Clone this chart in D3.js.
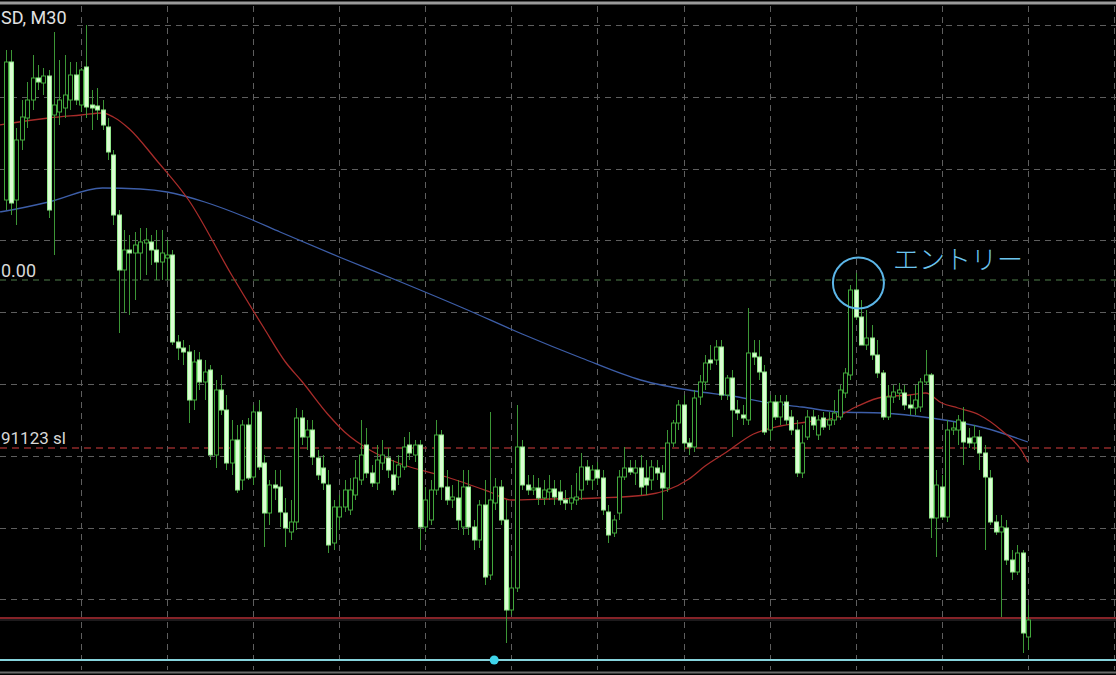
<!DOCTYPE html>
<html><head><meta charset="utf-8">
<script src="https://cdn.jsdelivr.net/npm/d3@7"></script>
<style>html,body{margin:0;padding:0;background:#000;overflow:hidden}</style>
</head><body>
<svg id="chart" width="1116" height="675"></svg>
<script>
// ---- Data (XAUUSD-like, M30 bars) ----
const opens = [
1940.0,1953.8,1940.0,1946.0,1948.2,1950.0,1952.2,1951.7,1952.4,1948.5,
1948.8,1949.2,1950.0,1952.5,1949.5,1953.3,1949.5,1949.4,1949.0,1947.3,
1944.5,1938.5,1933.0,1935.0,1934.7,1934.7,1935.7,1935.8,1935.0,1933.8,
1934.2,1934.5,1925.8,1925.2,1924.8,1920.0,1924.0,1921.8,1923.0,1914.5,
1921.0,1919.0,1913.7,1916.0,1912.0,1917.5,1912.3,1918.8,1913.7,1908.7,
1911.5,1911.3,1908.7,1906.8,1907.8,1918.2,1916.3,1917.0,1914.2,1913.2,
1911.5,1905.7,1908.3,1909.3,1909.0,1910.5,1912.0,1915.5,1912.7,1911.7,
1913.7,1914.2,1912.5,1912.3,1913.3,1915.5,1914.5,1915.5,1907.3,1908.0,
1911.0,1916.5,1911.3,1910.0,1910.2,1907.3,1911.3,1907.3,1906.0,1909.5,
1902.5,1909.7,1911.3,1908.0,1899.0,1901.2,1915.3,1911.5,1911.0,1911.2,
1910.2,1910.8,1911.1,1910.8,1910.0,1909.7,1910.0,1911.0,1913.3,1912.0,
1913.0,1912.2,1908.8,1906.7,1908.7,1912.3,1913.2,1912.7,1913.2,1912.2,
1912.0,1913.2,1912.7,1911.2,1915.7,1917.7,1919.5,1915.7,1915.3,1920.3,
1921.8,1924.0,1924.0,1925.3,1920.5,1922.2,1919.0,1918.5,1918.0,1924.7,
1924.3,1922.8,1917.0,1919.8,1918.3,1919.8,1918.3,1917.0,1912.7,1916.3,
1918.3,1916.5,1918.2,1917.5,1918.0,1918.3,1920.7,1922.5,1931.0,1928.3,
1925.5,1926.2,1924.5,1922.7,1918.3,1920.3,1920.7,1920.7,1919.5,1919.2,
1919.3,1921.8,1922.5,1908.2,1911.3,1908.3,1917.0,1917.0,1917.8,1916.2,
1915.7,1916.3,1914.7,1912.2,1907.8,1906.8,1907.2,1904.0,1902.8,1904.7,1896.3];
const highs = [
1955.0,1955.0,1947.2,1950.0,1951.8,1954.5,1953.5,1953.2,1953.0,1956.8,
1954.0,1954.5,1953.8,1953.8,1953.2,1957.5,1951.0,1951.2,1950.0,1948.2,
1945.0,1939.0,1937.0,1936.5,1936.8,1937.2,1937.2,1936.5,1937.0,1937.0,
1936.0,1935.0,1926.5,1926.0,1925.5,1925.0,1924.8,1924.0,1923.5,1922.0,
1922.5,1920.5,1918.0,1917.5,1918.0,1918.2,1919.5,1920.0,1914.5,1912.0,
1913.0,1913.0,1910.2,1910.0,1919.2,1919.0,1918.0,1918.0,1915.0,1914.5,
1913.0,1910.0,1910.5,1912.0,1912.2,1914.0,1918.0,1917.2,1913.5,1915.5,
1916.0,1915.2,1914.0,1914.5,1916.3,1916.8,1916.0,1916.0,1911.3,1912.0,
1918.0,1917.0,1913.0,1911.5,1912.0,1913.0,1913.0,1908.0,1910.0,1912.0,
1918.8,1912.2,1912.0,1910.0,1904.0,1919.5,1916.0,1912.5,1912.5,1912.2,
1912.0,1912.5,1912.0,1912.0,1911.0,1911.5,1912.7,1914.7,1914.0,1913.5,
1913.8,1913.0,1909.5,1908.5,1913.0,1915.3,1914.0,1914.0,1914.5,1914.0,
1914.0,1914.0,1913.5,1917.0,1918.0,1920.0,1920.5,1916.2,1921.0,1922.5,
1924.5,1925.5,1926.0,1926.0,1922.5,1923.0,1920.0,1919.5,1929.2,1926.0,
1926.0,1923.5,1920.5,1920.5,1920.5,1920.5,1919.0,1918.0,1917.5,1919.0,
1919.0,1918.5,1918.8,1918.8,1920.0,1921.5,1923.2,1931.5,1932.7,1930.0,
1929.0,1927.5,1926.0,1923.0,1921.5,1921.5,1921.7,1921.5,1920.5,1921.5,
1922.2,1925.0,1922.7,1913.0,1912.5,1918.0,1917.8,1918.5,1919.3,1917.2,
1917.5,1917.0,1915.5,1913.0,1908.5,1908.5,1908.0,1905.0,1905.5,1905.0,1899.5];
const lows = [
1939.0,1938.5,1937.5,1945.0,1947.2,1949.0,1951.0,1950.5,1938.2,1934.5,
1947.5,1948.2,1949.0,1949.5,1948.8,1948.2,1947.0,1948.0,1947.0,1944.0,
1937.5,1926.7,1928.7,1928.5,1930.0,1932.0,1932.5,1933.5,1932.0,1932.0,
1932.0,1925.5,1924.0,1923.5,1917.7,1919.0,1921.0,1920.0,1914.0,1913.2,
1918.5,1913.0,1912.5,1910.7,1911.0,1912.0,1911.5,1913.0,1905.3,1907.5,
1910.0,1907.3,1905.3,1906.0,1907.0,1915.5,1915.0,1913.5,1912.0,1911.0,
1904.7,1905.0,1907.0,1908.8,1908.5,1910.0,1911.5,1912.2,1911.3,1911.0,
1913.0,1912.2,1910.5,1911.5,1913.0,1914.0,1913.8,1905.0,1906.8,1907.5,
1910.5,1910.0,1909.5,1909.2,1907.0,1906.5,1906.5,1905.0,1905.2,1901.5,
1902.0,1909.0,1907.5,1895.7,1898.5,1900.8,1911.0,1910.5,1910.5,1909.5,
1909.5,1910.0,1909.5,1909.5,1909.0,1909.0,1909.5,1910.0,1911.5,1911.0,
1911.5,1908.5,1905.7,1906.3,1908.0,1912.0,1912.5,1911.5,1910.5,1910.5,
1911.0,1912.0,1908.0,1910.8,1915.3,1917.0,1915.0,1914.5,1914.8,1919.5,
1921.0,1923.0,1923.5,1920.0,1920.0,1916.3,1918.0,1917.5,1917.5,1923.5,
1922.0,1916.5,1916.0,1918.0,1917.5,1917.5,1916.5,1912.3,1912.2,1916.0,
1917.0,1916.0,1917.0,1917.0,1917.5,1918.0,1920.2,1922.0,1928.0,1925.5,
1925.0,1924.0,1922.2,1918.0,1918.0,1919.7,1920.0,1919.0,1918.5,1918.5,
1918.8,1921.5,1906.2,1904.3,1908.0,1907.8,1916.5,1915.5,1913.5,1915.2,
1915.0,1913.0,1905.0,1907.5,1906.5,1898.3,1903.5,1902.0,1902.5,1894.7,1895.0];
const closes = [
1953.8,1939.7,1946.0,1948.3,1950.0,1952.2,1951.8,1952.4,1939.0,1949.5,
1950.0,1950.5,1952.5,1950.0,1953.0,1949.3,1949.2,1949.0,1947.5,1944.8,
1938.5,1933.0,1935.0,1934.7,1935.5,1935.8,1936.0,1935.0,1933.8,1934.7,
1934.5,1925.8,1925.2,1924.8,1920.0,1923.8,1921.8,1922.8,1914.5,1921.0,
1919.0,1913.7,1916.0,1911.0,1917.5,1912.2,1918.8,1913.3,1908.7,1911.5,
1911.2,1908.8,1907.2,1907.8,1918.2,1916.3,1917.0,1914.3,1912.5,1911.7,
1905.5,1909.3,1909.3,1911.0,1911.0,1912.2,1914.5,1912.7,1911.7,1914.0,
1914.5,1913.0,1911.0,1913.5,1915.3,1914.7,1915.5,1907.3,1910.0,1911.0,
1916.5,1911.3,1910.0,1910.3,1908.0,1911.3,1907.3,1906.0,1909.5,1902.3,
1910.0,1911.3,1908.0,1899.0,1901.2,1915.3,1911.5,1911.0,1911.2,1910.2,
1911.0,1911.1,1910.3,1910.0,1909.7,1910.2,1910.3,1913.3,1912.0,1913.0,
1912.2,1909.0,1906.5,1908.0,1912.3,1913.2,1912.8,1913.2,1911.3,1911.5,
1913.3,1912.7,1911.2,1915.7,1917.7,1919.5,1915.7,1915.3,1920.2,1921.8,
1923.7,1923.7,1925.3,1920.5,1922.2,1919.0,1918.7,1918.2,1924.7,1924.3,
1922.8,1916.8,1919.8,1918.3,1919.8,1918.0,1917.0,1912.7,1915.7,1918.3,
1917.5,1918.0,1917.3,1918.0,1918.7,1921.0,1922.7,1931.0,1928.3,1925.5,
1926.2,1924.5,1922.7,1918.3,1920.3,1920.8,1921.0,1919.5,1919.2,1920.0,
1921.8,1922.5,1908.2,1911.5,1908.3,1917.0,1917.2,1918.0,1915.8,1915.7,
1916.3,1914.7,1912.3,1907.8,1906.8,1907.3,1904.0,1902.8,1904.7,1896.7,1898.0];

// moving averages: [bar index, value]
const fastMA = [[-1.1,1947.5],[0,1947.6],[8,1948.2],[14,1948.5],[18,1948.7],[20,1948.3],[23,1947.1],
 [28,1944.0],[34,1940.0],[42,1932.5],[48,1927.2],[52,1923.8],[55,1921.9],[60,1918.5],[63,1916.8],
 [68,1914.9],[74,1913.5],[82,1912.3],[90,1910.8],[94,1910.0],[101,1910.1],[110,1910.2],[119,1910.5],
 [123,1911.0],[127,1912.1],[130,1913.4],[134,1914.8],[139,1916.6],[144,1917.4],[149,1917.8],
 [154,1918.2],[158,1919.3],[163,1920.3],[168,1920.5],[171,1920.7],[174,1919.7],[177,1919.2],
 [181,1918.5],[185,1917.0],[189,1914.8],[190,1913.8]];
const slowMA = [[-1.1,1938.8],[0,1938.9],[8,1939.8],[18,1941.2],[25,1941.1],[30,1940.8],[37,1939.8],
 [45,1938.2],[51,1936.8],[62,1934.3],[73,1931.9],[85,1929.2],[96,1926.6],[107,1924.2],[118,1922.0],
 [128,1920.9],[135,1920.4],[142,1919.7],[148,1919.3],[155,1918.8],[163,1918.7],[172,1918.2],
 [182,1917.2],[190,1915.8]];

const gridBars = [14,30,46,62,78,94,110,126,142,158,174,190,206];
const gridPrices = [1957.50,1950.32,1943.14,1935.96,1928.79,1921.61,1914.43,1907.25,1900.07];
const entryPrice = 1932.0, slPrice = 1915.2, tpPrice = 1898.2, markerPrice = 1894.0, markerBar = 90.8;
const entryBar = 158.5, entryMarkPrice = 1931.7;
const titleText = "SD, M30", entryLabel = "0.00", slLabel = "91123 sl", noteText = "エントリー";

// ---- Drawing ----
const W = 1116, H = 675;
const svg = d3.select("#chart");
svg.append("rect").attr("width", W).attr("height", H).attr("fill", "#000");

const x = d3.scaleLinear().domain([0, 190]).range([5.68, 1027.9]);
const y = d3.scaleLinear().domain([1960, 1892.5]).range([0, 675]);

const g = svg.append("g");
// grid
g.selectAll(".vg").data(gridBars).enter().append("line")
  .attr("x1", d => Math.round(x(d)) + 0.5).attr("x2", d => Math.round(x(d)) + 0.5)
  .attr("y1", 6).attr("y2", 670)
  .attr("stroke", "#5e5e5e").attr("stroke-width", 1).attr("stroke-dasharray", "6,5");
g.selectAll(".hg").data(gridPrices).enter().append("line")
  .attr("x1", 0).attr("x2", 1116)
  .attr("y1", d => Math.round(y(d)) + 0.5).attr("y2", d => Math.round(y(d)) + 0.5)
  .attr("stroke", "#5e5e5e").attr("stroke-width", 1).attr("stroke-dasharray", "6,5");

// order lines
g.append("line").attr("x1", 0).attr("x2", W).attr("y1", y(entryPrice)).attr("y2", y(entryPrice))
  .attr("stroke", "#4f7f4a").attr("stroke-width", 1).attr("stroke-dasharray", "6,5");
g.append("line").attr("x1", 0).attr("x2", W).attr("y1", y(slPrice)).attr("y2", y(slPrice))
  .attr("stroke", "#8e2a2a").attr("stroke-width", 1.5).attr("stroke-dasharray", "7,5");
g.append("line").attr("x1", 0).attr("x2", W).attr("y1", y(tpPrice)).attr("y2", y(tpPrice))
  .attr("stroke", "#852328").attr("stroke-width", 2);
g.append("line").attr("x1", 0).attr("x2", W).attr("y1", y(tpPrice) + 2).attr("y2", y(tpPrice) + 2)
  .attr("stroke", "#3a3438").attr("stroke-width", 1);

// moving averages
const maLine = d3.line().x(d => x(d[0])).y(d => y(d[1])).curve(d3.curveMonotoneX);
g.append("path").attr("d", maLine(slowMA)).attr("fill", "none").attr("stroke", "#3d5ea8").attr("stroke-width", 1.3);
g.append("path").attr("d", maLine(fastMA)).attr("fill", "none").attr("stroke", "#a82c2a").attr("stroke-width", 1.3);

// candles
const idx = d3.range(Math.min(opens.length, highs.length, lows.length, closes.length));
const bw = 4;
const cg = g.append("g");
idx.forEach(i => {
  const cx = Math.round(x(i)) + 0.5;
  const o = y(opens[i]), c = y(closes[i]), h = y(highs[i]), l = y(lows[i]);
  const top = Math.min(o, c), bot = Math.max(o, c);
  const bull = closes[i] > opens[i];
  cg.append("line").attr("x1", cx).attr("x2", cx).attr("y1", h).attr("y2", l)
    .attr("stroke", "#3c9636").attr("stroke-width", 1);
  if (bull) {
    cg.append("rect").attr("x", cx - bw / 2).attr("y", top).attr("width", bw).attr("height", Math.max(1, bot - top))
      .attr("fill", "#000").attr("stroke", "#42a83c").attr("stroke-width", 1);
  } else {
    cg.append("rect").attr("x", cx - bw / 2).attr("y", top).attr("width", bw).attr("height", Math.max(1.5, bot - top))
      .attr("fill", "#dcfdd4").attr("stroke", "#93e88c").attr("stroke-width", 1);
  }
});

// frame lines
svg.append("line").attr("x1", 0).attr("x2", W).attr("y1", 3).attr("y2", 3).attr("stroke", "#9a9a9a").attr("stroke-width", 3);
svg.append("line").attr("x1", 0).attr("x2", W).attr("y1", 672.5).attr("y2", 672.5).attr("stroke", "#6a6a6a").attr("stroke-width", 2);
svg.append("line").attr("x1", 0).attr("x2", W).attr("y1", y(markerPrice)).attr("y2", y(markerPrice))
  .attr("stroke", "#86d3dc").attr("stroke-width", 2);
svg.append("circle").attr("cx", x(markerBar)).attr("cy", y(markerPrice)).attr("r", 4.5).attr("fill", "#3fd4ea");

// labels
const font = "Roboto, 'Liberation Sans', sans-serif";
svg.append("rect").attr("x", 0).attr("y", 8).attr("width", 74).attr("height", 19).attr("fill", "#000");
svg.append("text").attr("x", 1).attr("y", 24).text(titleText)
  .attr("fill", "#e2e2e2").attr("font-family", font).attr("font-size", 18);
svg.append("text").attr("x", 1).attr("y", 277).text(entryLabel)
  .attr("fill", "#d8d8d8").attr("font-family", font).attr("font-size", 18);
svg.append("text").attr("x", 1).attr("y", 444).text(slLabel)
  .attr("fill", "#d8d8d8").attr("font-family", font).attr("font-size", 17);

// annotation
svg.append("circle").attr("cx", x(entryBar)).attr("cy", y(entryMarkPrice)).attr("r", 25.5)
  .attr("fill", "none").attr("stroke", "#5cb6e8").attr("stroke-width", 2);
svg.append("text").attr("x", 893).attr("y", 269).text(noteText)
  .attr("fill", "#6cc4ee").attr("font-family", "'Noto Sans CJK JP', sans-serif").attr("font-size", 26).attr("font-weight", 300);
</script>
</body></html>
